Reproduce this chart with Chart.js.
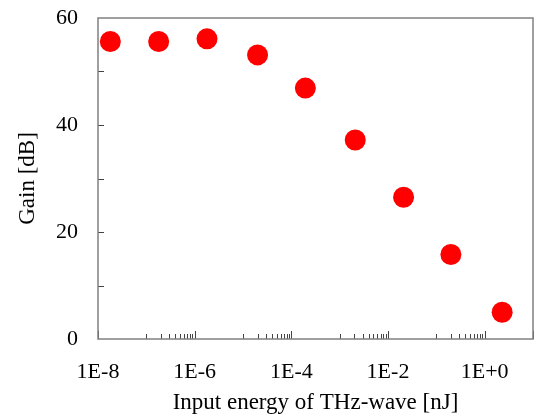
<!DOCTYPE html>
<html>
<head>
<meta charset="utf-8">
<script src="https://cdn.jsdelivr.net/npm/chart.js@4"></script>
<style>
  html, body { margin: 0; padding: 0; background: #fff; }
  #wrap { width: 537px; height: 418px; }
</style>
</head>
<body>
<div id="wrap"><canvas id="c" width="537" height="418"></canvas></div>
<script>
// Data
const energy = [1.8e-8, 1.8e-7, 1.8e-6, 2.0e-5, 1.95e-4, 2.1e-3, 2.1e-2, 2.0e-1, 2.3];
const gain   = [55.6, 55.6, 56.1, 53.1, 46.9, 37.2, 26.5, 15.8, 5.0];

// Tick labels
const xTickValues = [1e-8, 1e-6, 1e-4, 1e-2, 1];
const xTickLabels = ['1E-8', '1E-6', '1E-4', '1E-2', '1E+0'];
const yTickValues = [0, 20, 40, 60];
const yMinorValues = [10, 20, 30, 40, 50];
const xMajorExponents = [-8, -6, -4, -2, 0, 1];

const points = energy.map((e, i) => ({ x: e, y: gain[i] }));

const frameAndTicks = {
  id: 'frameAndTicks',
  afterDatasetsDraw(chart) {
    const { ctx, chartArea: a } = chart;
    const xs = chart.scales.x, ys = chart.scales.y;
    ctx.save();
    ctx.strokeStyle = '#444';
    ctx.lineWidth = 1;
    ctx.beginPath();
    xMajorExponents.forEach(e => {
      const px = Math.round(xs.getPixelForValue(Math.pow(10, e))) + 0.5;
      ctx.moveTo(px, a.bottom); ctx.lineTo(px, a.bottom - 8);
    });
    for (let e = -8; e < 0; e += 2) {
      for (let k = 1; k <= 9; k++) {
        const v = k * Math.pow(10, e + 1);
        const px = Math.round(xs.getPixelForValue(v)) + 0.5;
        ctx.moveTo(px, a.bottom); ctx.lineTo(px, a.bottom - 5);
      }
    }
    yMinorValues.forEach(v => {
      const py = Math.round(ys.getPixelForValue(v)) + 0.5;
      ctx.moveTo(a.left, py); ctx.lineTo(a.left + 6, py);
    });
    ctx.stroke();
    ctx.strokeStyle = '#808080';
    ctx.lineWidth = 1.5;
    ctx.strokeRect(a.left, a.top, a.right - a.left, a.bottom - a.top);
    ctx.restore();
  }
};

new Chart(document.getElementById('c'), {
  type: 'scatter',
  data: {
    datasets: [{
      data: points,
      backgroundColor: '#ff0000',
      borderWidth: 0,
      pointRadius: 10.5,
      pointHoverRadius: 10.5
    }]
  },
  options: {
    responsive: false,
    devicePixelRatio: 1,
    animation: false,
    events: [],
    layout: { autoPadding: false, padding: { top: 18, right: 4, left: 0, bottom: 0 } },
    plugins: { legend: { display: false }, tooltip: { enabled: false } },
    scales: {
      x: {
        type: 'logarithmic',
        min: 1e-8,
        max: 10,
        grid: { display: false, drawTicks: false },
        border: { display: false },
        afterBuildTicks(scale) { scale.ticks = xTickValues.map(v => ({ value: v })); },
        afterFit(scale) {
          scale.height = 79;
          scale.paddingLeft = 0; scale.paddingRight = 0;
          scale.paddingTop = 0; scale.paddingBottom = 0;
        },
        ticks: {
          autoSkip: false,
          maxRotation: 0,
          padding: 20,
          color: '#000',
          font: { family: 'Liberation Serif', size: 22 },
          callback: (v, i) => xTickLabels[i]
        },
        title: {
          display: true,
          text: 'Input energy of THz-wave [nJ]',
          color: '#000',
          font: { family: 'Liberation Serif', size: 23 },
          padding: { top: 1, bottom: 1 }
        }
      },
      y: {
        min: 0,
        max: 60,
        grid: { display: false, drawTicks: false },
        border: { display: false },
        afterBuildTicks(scale) { scale.ticks = yTickValues.map(v => ({ value: v })); },
        afterFit(scale) {
          scale.width = 98;
          scale.paddingTop = 0; scale.paddingBottom = 0;
          scale.paddingLeft = 0; scale.paddingRight = 0;
        },
        ticks: {
          padding: 20,
          color: '#000',
          font: { family: 'Liberation Serif', size: 22 }
        },
        title: {
          display: true,
          text: 'Gain [dB]',
          color: '#000',
          font: { family: 'Liberation Serif', size: 23 },
          padding: { top: 14, bottom: 14 }
        }
      }
    }
  },
  plugins: [frameAndTicks]
});
</script>
</body>
</html>
